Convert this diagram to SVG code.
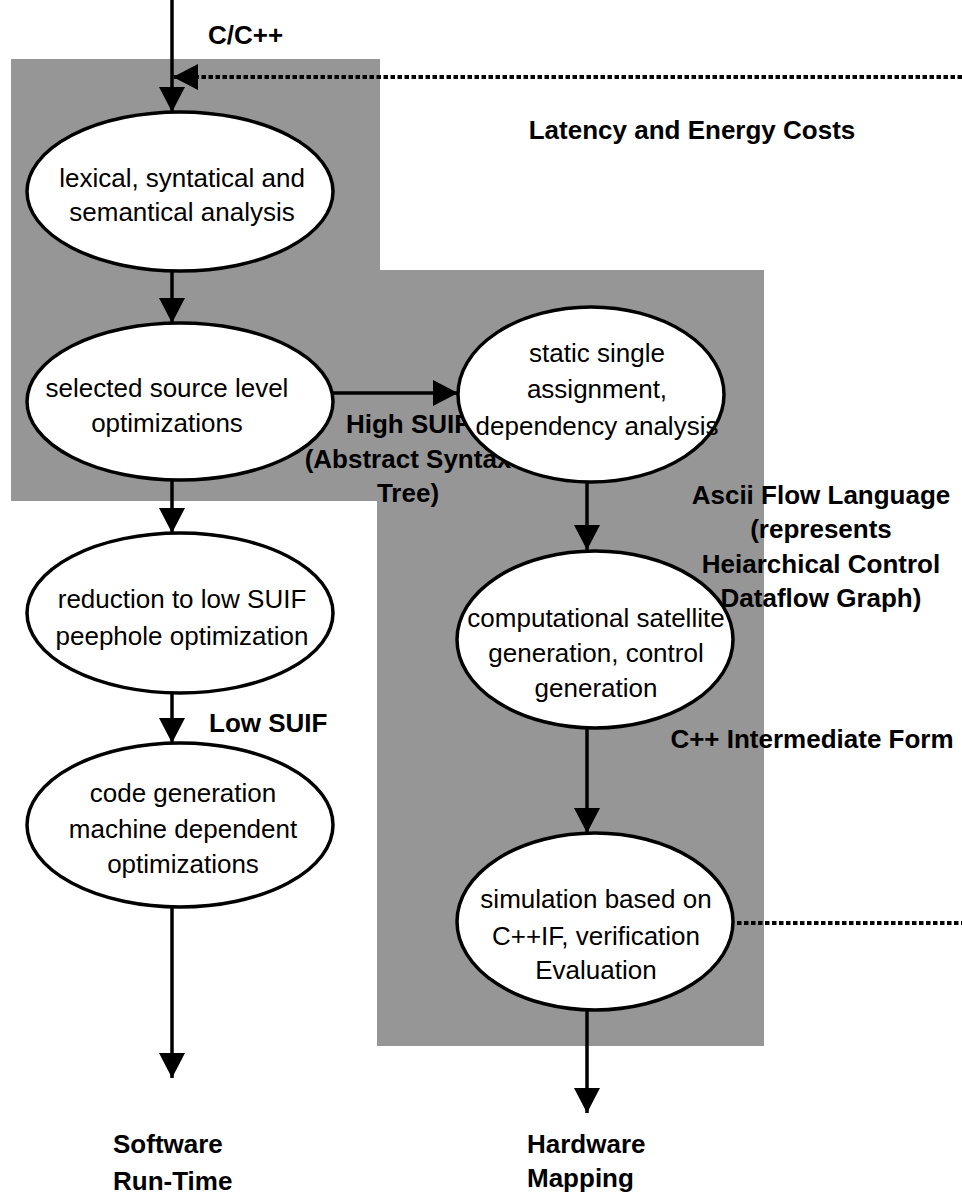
<svg xmlns="http://www.w3.org/2000/svg" width="962" height="1194" viewBox="0 0 962 1194">
  <style>
    .node ellipse { fill: #ffffff; stroke: #000000; stroke-width: 3.5; }
    .node text, .label { font-family: "Liberation Sans", Arial, sans-serif; font-size: 26px; fill: #000000; }
    .node text { text-anchor: middle; }
    .label { font-weight: bold; }
    .mid { text-anchor: middle; }
    .edge { stroke: #000000; stroke-width: 3.5; fill: none; }
    .arrow { marker-end: url(#head); }
    .dotted { stroke-width: 4; stroke-dasharray: 4.5 2.5; }
  </style>
  <defs>
    <marker id="head" markerUnits="userSpaceOnUse" markerWidth="26" markerHeight="26" viewBox="0 0 26 26" refX="25" refY="13" orient="auto">
      <path d="M0,0 L25,13 L0,26 z" fill="#000000"/>
    </marker>
  </defs>

  <rect width="962" height="1194" fill="#ffffff"/>

  <!-- shaded regions: front end (top-left) and hardware path (right) -->
  <polygon id="shading" points="11,59 380,59 380,270 764,270 764,1046 377,1046 377,501 11,501" fill="#969696"/>

  <!-- connectors -->
  <g id="connectors">
    <line class="edge arrow" x1="172" y1="0" x2="172" y2="112"/>
    <line class="edge arrow dotted" x1="962" y1="77" x2="173" y2="77"/>
    <line class="edge arrow" x1="172" y1="271" x2="172" y2="323"/>
    <line class="edge arrow" x1="333" y1="393" x2="458" y2="393"/>
    <line class="edge arrow" x1="172" y1="480" x2="172" y2="533"/>
    <line class="edge arrow" x1="172" y1="693" x2="172" y2="743"/>
    <line class="edge arrow" x1="172" y1="907" x2="172" y2="1078"/>
    <line class="edge arrow" x1="587" y1="482" x2="587" y2="550"/>
    <line class="edge arrow" x1="587" y1="728" x2="587" y2="833"/>
    <line class="edge arrow" x1="587" y1="1010" x2="587" y2="1113"/>
    <line class="edge dotted" x1="737" y1="923" x2="962" y2="923"/>
  </g>

  <!-- edge labels -->
  <g id="labels">
    <text class="label" x="208" y="44">C/C++</text>
    <text class="label mid" x="692" y="139">Latency and Energy Costs</text>
    <text class="label mid" x="408" y="433">High SUIF</text>
    <text class="label mid" x="408" y="468">(Abstract Syntax</text>
    <text class="label mid" x="408" y="502">Tree)</text>
    <text class="label mid" x="821" y="504">Ascii Flow Language</text>
    <text class="label mid" x="821" y="538">(represents</text>
    <text class="label mid" x="821" y="573">Heiarchical Control</text>
    <text class="label mid" x="821" y="607">Dataflow Graph)</text>
    <text class="label mid" x="812" y="748">C++ Intermediate Form</text>
    <text class="label" x="209" y="732">Low SUIF</text>
    <text class="label" x="113" y="1153">Software</text>
    <text class="label" x="113" y="1190">Run-Time</text>
    <text class="label" x="527" y="1153">Hardware</text>
    <text class="label" x="527" y="1187">Mapping</text>
  </g>

  <!-- processing steps -->
  <g id="analysis" class="node">
    <ellipse cx="180" cy="191.5" rx="153" ry="79.5"/>
    <text x="182" y="187">lexical, syntatical and</text>
    <text x="182" y="221">semantical analysis</text>
  </g>
  <g id="source-opt" class="node">
    <ellipse cx="180" cy="401.5" rx="153" ry="78.5"/>
    <text x="167" y="397">selected source level</text>
    <text x="167" y="432">optimizations</text>
  </g>
  <g id="ssa" class="node">
    <ellipse cx="591" cy="394.5" rx="133" ry="87.5"/>
    <text x="597" y="362">static single</text>
    <text x="597" y="398">assignment,</text>
    <text x="597" y="435">dependency analysis</text>
  </g>
  <g id="lowering" class="node">
    <ellipse cx="180" cy="613" rx="153" ry="80"/>
    <text x="182" y="608">reduction to low SUIF</text>
    <text x="182" y="645">peephole optimization</text>
  </g>
  <g id="codegen" class="node">
    <ellipse cx="180" cy="825" rx="153" ry="82"/>
    <text x="183" y="802">code generation</text>
    <text x="183" y="838">machine dependent</text>
    <text x="183" y="873">optimizations</text>
  </g>
  <g id="satellite" class="node">
    <ellipse cx="595" cy="639.5" rx="138" ry="88.5"/>
    <text x="596" y="627">computational satellite</text>
    <text x="596" y="662">generation, control</text>
    <text x="596" y="697">generation</text>
  </g>
  <g id="simulation" class="node">
    <ellipse cx="595" cy="921.5" rx="138" ry="88.5"/>
    <text x="596" y="908">simulation based on</text>
    <text x="596" y="945">C++IF, verification</text>
    <text x="596" y="979">Evaluation</text>
  </g>
</svg>
